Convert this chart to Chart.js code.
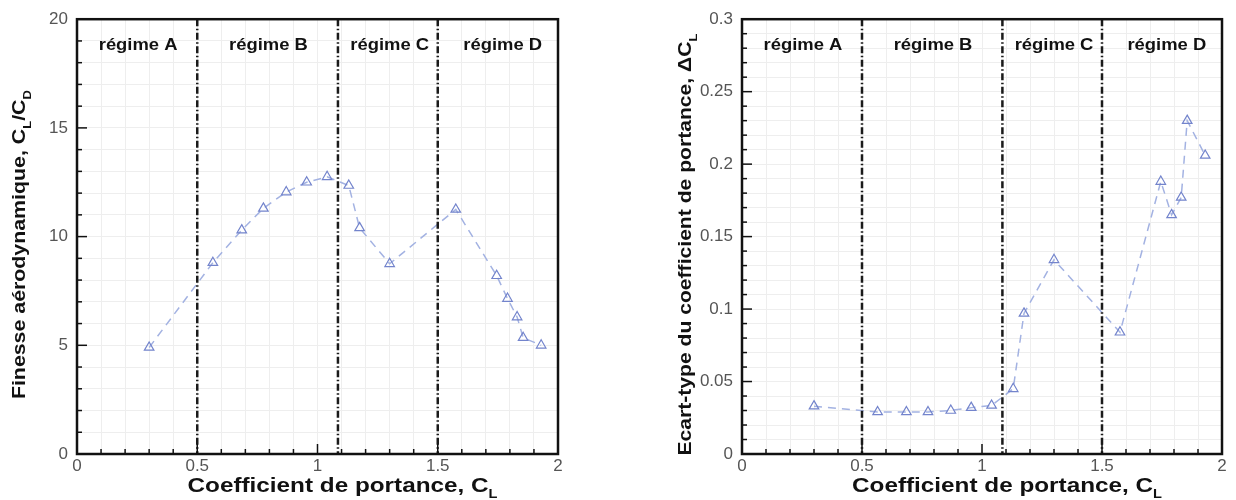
<!DOCTYPE html>
<html>
<head>
<meta charset="utf-8">
<script src="https://cdn.jsdelivr.net/npm/chart.js@4.4.0/dist/chart.umd.min.js"></script>
<style>
    html, body { margin: 0; padding: 0; background: #fff; }
    .wrap { display: flex; width: 1236px; height: 500px; }
    .box { width: 618px; height: 500px; }
</style>
</head>
<body>
<div class="wrap">
    <div class="box"><canvas id="finesseChart" width="618" height="500"></canvas></div>
    <div class="box"><canvas id="ecartChart" width="618" height="500"></canvas></div>
</div>
<script>
// Coefficient de portance (axe x, commun aux deux graphes)
const portance = [0.30, 0.565, 0.685, 0.775, 0.87, 0.955, 1.04, 1.13, 1.175, 1.30, 1.575, 1.745, 1.79, 1.83, 1.855, 1.93];
// Finesse CL/CD
const finesse = [4.9, 8.8, 10.3, 11.3, 12.05, 12.5, 12.75, 12.35, 10.4, 8.75, 11.25, 8.2, 7.15, 6.3, 5.35, 5.0];
// Ecart-type du coefficient de portance
const ecartType = [0.033, 0.029, 0.029, 0.029, 0.030, 0.032, 0.0335, 0.045, 0.097, 0.134, 0.084, 0.188, 0.165, 0.177, 0.230, 0.206];

const limitesRegimes = [0.5, 1.085, 1.5];
const nomsRegimes = ['régime A', 'régime B', 'régime C', 'régime D'];
const centresRegimes = [0.254, 0.796, 1.30, 1.77];

const FONT = '"Liberation Sans", Arial, Helvetica, sans-serif';

function estMultiple(v, pas) {
    const q = v / pas;
    return Math.abs(q - Math.round(q)) < 1e-6;
}

// texte gras avec indices (C_L, C_D ...), centre sur l'origine courante
function texteIndice(ctx, parts, taille, largeur) {
    const petite = Math.round(taille * 0.62);
    let total = 0;
    parts.forEach(p => {
        ctx.font = 'bold ' + (p.sub ? petite : taille) + 'px ' + FONT;
        p.w = ctx.measureText(p.t).width;
        total += p.w;
    });
    ctx.scale(largeur / total, 1);
    ctx.textAlign = 'left';
    ctx.textBaseline = 'alphabetic';
    let x = -total / 2;
    parts.forEach(p => {
        ctx.font = 'bold ' + (p.sub ? petite : taille) + 'px ' + FONT;
        ctx.fillText(p.t, x, taille * 0.36 + (p.sub ? taille * 0.3 : 0));
        x += p.w;
    });
}

const decor = {
    id: 'decor',
    afterDatasetsDraw(chart, args, o) {
        const { ctx, chartArea: a, scales: { x, y } } = chart;
        ctx.save();

        // lignes de séparation des régimes
        ctx.strokeStyle = '#1a1a1a';
        ctx.lineWidth = 2.5;
        ctx.setLineDash([7, 2.5, 1.5, 2.5]);
        limitesRegimes.forEach(v => {
            const px = x.getPixelForValue(v);
            ctx.beginPath();
            ctx.moveTo(px, a.top);
            ctx.lineTo(px, a.bottom);
            ctx.stroke();
        });
        ctx.setLineDash([]);

        // noms des régimes
        ctx.fillStyle = '#111';
        nomsRegimes.forEach((nom, i) => {
            ctx.save();
            ctx.translate(x.getPixelForValue(centresRegimes[i]), a.top + 25);
            ctx.font = 'bold 16px ' + FONT;
            const w = ctx.measureText(nom).width;
            texteIndice(ctx, [{ t: nom }], 16, w * 1.15);
            ctx.restore();
        });

        // graduations intérieures
        ctx.strokeStyle = '#111';
        ctx.lineWidth = 1.5;
        for (let i = 0; i <= 20; i++) {
            const v = i / 10;
            const px = x.getPixelForValue(v);
            const l = estMultiple(v, 0.5) ? 10 : 5;
            ctx.beginPath();
            ctx.moveTo(px, a.bottom);
            ctx.lineTo(px, a.bottom - l);
            ctx.stroke();
        }
        const n = Math.round(o.yMax / o.yMinor);
        for (let i = 0; i <= n; i++) {
            const v = i * o.yMinor;
            const py = y.getPixelForValue(v);
            const l = estMultiple(v, o.yMajor) ? 10 : 5;
            ctx.beginPath();
            ctx.moveTo(a.left, py);
            ctx.lineTo(a.left + l, py);
            ctx.stroke();
        }

        // cadre
        ctx.lineWidth = 2.5;
        ctx.strokeRect(a.left, a.top, a.right - a.left, a.bottom - a.top);

        // titres des axes
        ctx.fillStyle = '#111';
        ctx.save();
        ctx.translate((a.left + a.right) / 2 + 25, a.bottom + 31);
        texteIndice(ctx, [{ t: 'Coefficient de portance, C' }, { t: 'L', sub: true }], 20, 310);
        ctx.restore();

        ctx.save();
        ctx.translate(o.titreYx, (a.top + a.bottom) / 2 + 8);
        ctx.rotate(-Math.PI / 2);
        texteIndice(ctx, o.titreY, 18, o.titreYlong);
        ctx.restore();

        ctx.restore();
    }
};

function creerGraphe(id, valeurs, yMax, yMinor, yMajor, largeurAxeY, margeDroite, titreY, titreYx, titreYlong) {
    return new Chart(document.getElementById(id), {
        type: 'scatter',
        data: {
            datasets: [{
                data: portance.map((cl, i) => ({ x: cl, y: valeurs[i] })),
                showLine: true,
                borderColor: '#a3b2e2',
                borderWidth: 1.5,
                borderDash: [8, 6],
                pointStyle: 'triangle',
                pointRadius: 5.5,
                pointBorderWidth: 1.2,
                pointBorderColor: '#7384cc',
                pointBackgroundColor: 'rgba(255,255,255,0)'
            }]
        },
        options: {
            responsive: false,
            animation: false,
            layout: { padding: { top: 16, right: margeDroite, left: 0, bottom: 0 } },
            plugins: {
                legend: { display: false },
                tooltip: { enabled: false },
                decor: { yMax: yMax, yMinor: yMinor, yMajor: yMajor, titreY: titreY, titreYx: titreYx, titreYlong: titreYlong }
            },
            scales: {
                x: {
                    type: 'linear', min: 0, max: 2,
                    afterFit: s => { s.height = 46; },
                    border: { display: false },
                    grid: { color: '#eeeeee', lineWidth: 1, drawTicks: false },
                    ticks: {
                        stepSize: 0.1, autoSkip: false, maxRotation: 0, padding: 2,
                        color: '#555', font: { family: FONT, size: 17 },
                        callback: v => estMultiple(v, 0.5) ? String(Math.round(v * 10) / 10) : ''
                    }
                },
                y: {
                    type: 'linear', min: 0, max: yMax,
                    afterFit: s => { s.width = largeurAxeY; },
                    border: { display: false },
                    grid: { color: '#eeeeee', lineWidth: 1, drawTicks: false },
                    ticks: {
                        stepSize: yMinor, autoSkip: false, padding: 9,
                        color: '#555', font: { family: FONT, size: 17 },
                        callback: v => estMultiple(v, yMajor) ? String(Math.round(v * 100) / 100) : ''
                    }
                }
            }
        },
        plugins: [decor]
    });
}

document.addEventListener('DOMContentLoaded', function() {
    creerGraphe('finesseChart', finesse, 20, 1, 5, 77, 60,
        [{ t: 'Finesse aérodynamique, C' }, { t: 'L', sub: true }, { t: '/C' }, { t: 'D', sub: true }], 19, 309);
    creerGraphe('ecartChart', ecartType, 0.3, 0.01, 0.05, 124, 14,
        [{ t: 'Ecart-type du coefficient de portance, \u0394C' }, { t: 'L', sub: true }], 67, 422);
});
</script>
</body>
</html>
